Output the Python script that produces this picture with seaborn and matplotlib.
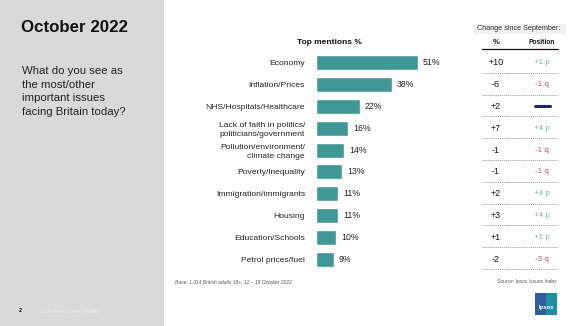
import matplotlib
matplotlib.use("Agg")
import matplotlib.pyplot as plt
import matplotlib.transforms as mtransforms
from matplotlib.patches import Rectangle
import seaborn as sns
import pandas as pd

# ---- data ----
issues = ["Economy", "Inflation/Prices", "NHS/Hospitals/Healthcare",
          "Lack of faith in politics/\npoliticians/government",
          "Pollution/environment/\nclimate change", "Poverty/inequality",
          "Immigration/immigrants", "Housing", "Education/Schools",
          "Petrol prices/fuel"]
mentions = [51, 38, 22, 16, 14, 13, 11, 11, 10, 9]
pct_change = ["+10", "-6", "+2", "+7", "-1", "-1", "+2", "+3", "+1", "-2"]
pos_change = ["+1", "-1", "0", "+4", "-1", "-1", "+4", "+4", "+1", "-3"]

W, H = 579, 326
sns.set_theme(style="white")
plt.rcParams['font.family'] = ['Liberation Sans', 'DejaVu Sans']

fig = plt.figure(figsize=(W / 100, H / 100), dpi=100)
fig.patch.set_facecolor("white")

def fx(px):
    return px / W

def fy(py):
    return 1 - py / H

# left grey panel
fig.patches.append(Rectangle((0, 0), fx(164), 1, transform=fig.transFigure,
                             facecolor="#d9d9d9", edgecolor="none", zorder=0))
fig.text(fx(21), fy(27), "October 2022", fontsize=12.2, fontweight="bold",
         color="#111111", va="center", ha="left")
fig.text(fx(22), fy(66), "What do you see as\nthe most/other\nimportant issues\nfacing Britain today?",
         fontsize=8.2, color="#222222", va="top", ha="left", linespacing=1.45)
fig.text(fx(19), fy(311), "2", fontsize=4, fontweight="bold", color="#111111",
         va="center", ha="left")
fig.text(fx(40), fy(311), "Ipsos Issues Index | Public", fontsize=3.5, color="#f2f2f2",
         va="center", ha="left")

# bar chart
top_px, bot_px = 52, 270
ax = fig.add_axes([fx(316), fy(bot_px), fx(140), (bot_px - top_px) / H])
df = pd.DataFrame({"issue": issues, "mentions": mentions})
sns.barplot(data=df, y="issue", x="mentions", orient="h", color="#3f9896",
            saturation=1, width=0.68, ax=ax)
ax.set_xlim(0, 70)
ax.set_ylim(len(issues) - 0.5, -0.5)
ax.set_xlabel("")
ax.set_ylabel("")
ax.set_xticks([])
ax.tick_params(axis="y", length=0, pad=8, labelsize=6.1, labelcolor="#222222")
for s in ax.spines.values():
    s.set_visible(False)
ax.patch.set_alpha(0)
for lbl in ax.get_yticklabels():
    lbl.set_linespacing(1.3)
for i, v in enumerate(mentions):
    ax.text(v + 2.5, i, f"{v}%", va="center", ha="left", fontsize=6.3, color="#222222")

fig.text(fx(329), fy(42), "Top mentions %", fontsize=6, fontweight="bold",
         ha="center", va="center", color="#111111")

# right-hand table
trans = mtransforms.blended_transform_factory(fig.transFigure, ax.transData)
fig.patches.append(Rectangle((fx(473), fy(34)), fx(93), 10 / H, transform=fig.transFigure,
                             facecolor="#f0f0f0", edgecolor="none"))
fig.text(fx(519), fy(29), "Change since September:", fontsize=5.2, ha="center",
         va="center", color="#333333")
fig.text(fx(496), fy(43), "%", fontsize=5.5, fontweight="bold", ha="center", va="center",
         color="#111111")
fig.text(fx(542), fy(43), "Position", fontsize=4.8, fontweight="bold", ha="center",
         va="center", color="#111111")
fig.lines.append(plt.Line2D([fx(482), fx(558)], [fy(49), fy(49)], transform=fig.transFigure,
                            color="#111111", lw=0.9))
for i in range(len(issues)):
    fig.text(fx(496), i, pct_change[i], transform=trans, fontsize=6.5, ha="center",
             va="center", color="#111111")
    p = pos_change[i]
    if p == "0":
        fig.lines.append(plt.Line2D([fx(535), fx(550)], [i, i], transform=trans,
                                    color="#1f2a5a", lw=2.2))
    elif p.startswith("+"):
        fig.text(fx(542), i, p + " p", transform=trans, fontsize=5.8, ha="center",
                 va="center", color="#7bb6b4")
    else:
        fig.text(fx(542), i, p + " q", transform=trans, fontsize=5.8, ha="center",
                 va="center", color="#d0485c")
    fig.lines.append(plt.Line2D([fx(482), fx(558)], [i + 0.45, i + 0.45], transform=trans,
                                color="#999999", lw=0.7, ls=(0, (1, 1))))

# footer
fig.text(fx(175), fy(282), "Base: 1,014 British adults 18+, 12 \u2013 18 October 2022",
         fontsize=3.6, style="italic", color="#555555", ha="left", va="center")
fig.text(fx(557), fy(282), "Source: Ipsos Issues Index", fontsize=3.6, style="italic",
         color="#555555", ha="right", va="center")

# logo
fig.patches.append(Rectangle((fx(535), fy(315)), fx(22), 22 / H, transform=fig.transFigure,
                             facecolor="#2f5fa0", edgecolor="none"))
fig.patches.append(Rectangle((fx(546), fy(315)), fx(11), 22 / H, transform=fig.transFigure,
                             facecolor="#1a9aa0", edgecolor="none", alpha=0.8))
fig.text(fx(546), fy(308), "Ipsos", fontsize=4.2, color="white", ha="center",
         va="center", fontweight="bold")

fig.savefig("out.png", dpi=100)
